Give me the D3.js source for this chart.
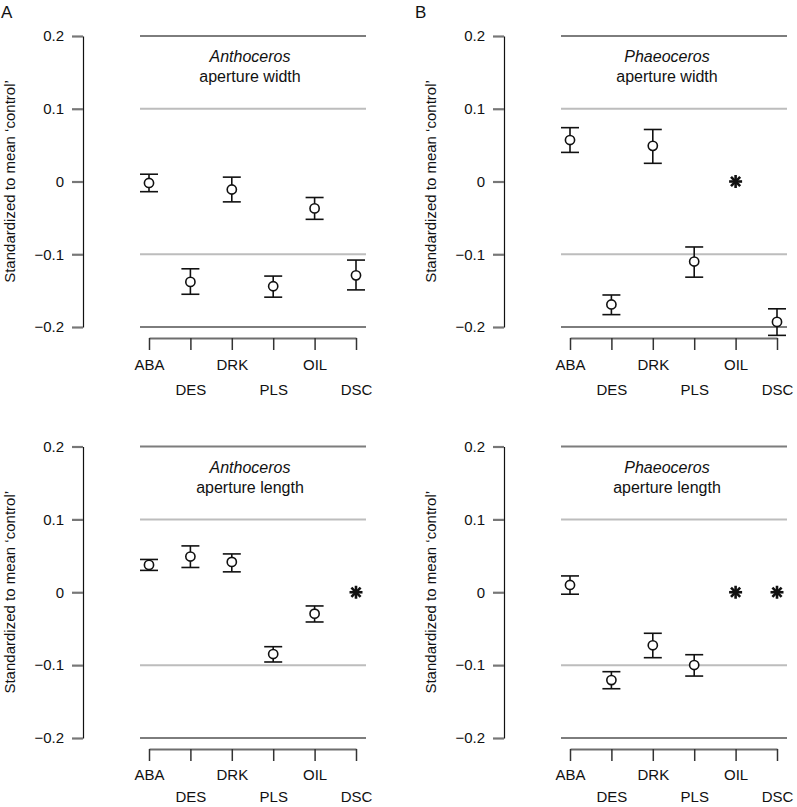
<!DOCTYPE html>
<html>
<head>
<meta charset="utf-8">
<script src="https://cdn.jsdelivr.net/npm/d3@7"></script>
<style>
  html, body { margin: 0; padding: 0; background: #fff; }
  svg { display: block; font-family: "Liberation Sans", Arial, Helvetica, sans-serif; }
</style>
</head>
<body>
<svg id="chart" width="797" height="807"></svg>
<script>
// ---------- DATA ----------
const categories = ["ABA", "DES", "DRK", "PLS", "OIL", "DSC"];
const yTicks = [0.2, 0.1, 0, -0.1, -0.2];
const yLabel = "Standardized to mean \u2018control\u2019";

// marker: "o" = mean ± error bar, "*" = asterisk
const anthWidthMean = [-0.002, -0.138, -0.011, -0.144, -0.037, -0.129];
const anthWidthLow  = [-0.014, -0.155, -0.028, -0.159, -0.052, -0.149];
const anthWidthHigh = [ 0.010, -0.120,  0.006, -0.130, -0.022, -0.108];
const anthWidthMark = ["o", "o", "o", "o", "o", "o"];

const phaeWidthMean = [0.057, -0.169, 0.049, -0.110, 0, -0.193];
const phaeWidthLow  = [0.040, -0.183, 0.025, -0.1315, null, -0.2115];
const phaeWidthHigh = [0.074, -0.156, 0.0715, -0.090, null, -0.175];
const phaeWidthMark = ["o", "o", "o", "o", "*", "o"];

const anthLenMean = [0.0375, 0.049, 0.0416, -0.0848, -0.0294, 0];
const anthLenLow  = [0.030, 0.034, 0.028, -0.0957, -0.0408, null];
const anthLenHigh = [0.045, 0.0636, 0.0526, -0.0747, -0.0188, null];
const anthLenMark = ["o", "o", "o", "o", "o", "*"];

const phaeLenMean = [0.010, -0.1205, -0.0728, -0.0999, 0, 0];
const phaeLenLow  = [-0.0027, -0.1324, -0.0898, -0.115, null, null];
const phaeLenHigh = [0.0224, -0.109, -0.0563, -0.0857, null, null];
const phaeLenMark = ["o", "o", "o", "o", "*", "*"];

// ---------- LAYOUT ----------
const panels = [
  { genus: "Anthoceros", trait: "aperture width", mean: anthWidthMean, low: anthWidthLow, high: anthWidthHigh, mark: anthWidthMark,
    axisX: 83, xr: [149, 356], yr: [327, 36], xAxisY: 338, rowY: [32, 57], titleX: 250, labelX: 15 },
  { genus: "Phaeoceros", trait: "aperture width", mean: phaeWidthMean, low: phaeWidthLow, high: phaeWidthHigh, mark: phaeWidthMark,
    axisX: 504, xr: [570, 777], yr: [327, 36], xAxisY: 338, rowY: [32, 57], titleX: 667, labelX: 436 },
  { genus: "Anthoceros", trait: "aperture length", mean: anthLenMean, low: anthLenLow, high: anthLenHigh, mark: anthLenMark,
    axisX: 83, xr: [149, 356], yr: [738, 446.5], xAxisY: 749, rowY: [31, 53], titleX: 250, labelX: 15 },
  { genus: "Phaeoceros", trait: "aperture length", mean: phaeLenMean, low: phaeLenLow, high: phaeLenHigh, mark: phaeLenMark,
    axisX: 504, xr: [570, 777], yr: [738, 446.5], xAxisY: 749, rowY: [31, 53], titleX: 667, labelX: 436 }
];

const svg = d3.select("#chart");

// Panel letters
svg.append("text").attr("x", 1).attr("y", 18).attr("font-size", 17).attr("fill", "#111").text("A");
svg.append("text").attr("x", 415).attr("y", 18).attr("font-size", 17).attr("fill", "#111").text("B");

panels.forEach(p => {
  const g = svg.append("g");
  const x = d3.scalePoint().domain(categories).range(p.xr);
  const y = d3.scaleLinear().domain([-0.2, 0.2]).range(p.yr);

  // horizontal reference lines
  g.selectAll("line.grid").data(yTicks.filter(t => t !== 0)).join("line")
    .attr("class", "grid")
    .attr("x1", p.xr[0] - 9).attr("x2", p.xr[1] + 10)
    .attr("y1", d => y(d)).attr("y2", d => y(d))
    .attr("stroke", d => Math.abs(d) > 0.15 ? "#7d7d7d" : "#bdbdbd")
    .attr("stroke-width", 2);

  // y axis
  const yAxis = d3.axisLeft(y).tickValues(yTicks).tickSize(11).tickSizeOuter(0).tickPadding(8)
    .tickFormat(d => d === 0 ? "0" : d3.format(".1f")(d).replace("-", "\u2212"));
  const ya = g.append("g").attr("transform", `translate(${p.axisX},0)`).call(yAxis);
  ya.select(".domain").attr("stroke", "#111").attr("stroke-width", 1.2);
  ya.selectAll(".tick line").attr("stroke", "#777").attr("stroke-width", 2.2);
  ya.selectAll(".tick text").attr("font-size", 15).attr("fill", "#111")
    .attr("font-family", "Liberation Sans, Arial, sans-serif");

  // x axis
  const xAxis = d3.axisBottom(x).tickSize(12).tickSizeOuter(0).tickPadding(0);
  const xa = g.append("g").attr("transform", `translate(0,${p.xAxisY})`).call(xAxis);
  xa.select(".domain").attr("stroke", "#6e6e6e").attr("stroke-width", 2.2);
  xa.selectAll(".tick line").attr("stroke", "#333").attr("stroke-width", 1.5);
  xa.selectAll(".tick text").attr("font-size", 15).attr("fill", "#111")
    .attr("font-family", "Liberation Sans, Arial, sans-serif")
    .attr("dy", null)
    .attr("y", (d, i) => p.rowY[i % 2]);

  // y label
  g.append("text")
    .attr("transform", `translate(${p.labelX},${y(0)}) rotate(-90)`)
    .attr("text-anchor", "middle").attr("font-size", 15).attr("fill", "#111")
    .text(yLabel);

  // title
  const t = g.append("text").attr("text-anchor", "middle").attr("font-size", 16).attr("fill", "#111");
  t.append("tspan").attr("x", p.titleX).attr("y", y(0.2) + 26).attr("font-style", "italic").text(p.genus);
  t.append("tspan").attr("x", p.titleX).attr("y", y(0.2) + 46).text(p.trait);

  const rows = categories.map((c, i) => ({ c, m: p.mean[i], lo: p.low[i], hi: p.high[i], mk: p.mark[i] }));
  const bars = rows.filter(r => r.mk === "o");
  const stars = rows.filter(r => r.mk === "*");

  // error bars
  const eb = g.selectAll("g.eb").data(bars).join("g").attr("class", "eb")
    .attr("stroke", "#111").attr("stroke-width", 1.6).attr("fill", "none");
  eb.append("line").attr("x1", d => x(d.c)).attr("x2", d => x(d.c)).attr("y1", d => y(d.hi)).attr("y2", d => y(d.lo));
  eb.append("line").attr("x1", d => x(d.c) - 9).attr("x2", d => x(d.c) + 9).attr("y1", d => y(d.hi)).attr("y2", d => y(d.hi));
  eb.append("line").attr("x1", d => x(d.c) - 9).attr("x2", d => x(d.c) + 9).attr("y1", d => y(d.lo)).attr("y2", d => y(d.lo));
  eb.append("circle").attr("cx", d => x(d.c)).attr("cy", d => y(d.m)).attr("r", 4.6).attr("fill", "#fff");

  // asterisks
  const st = g.selectAll("g.star").data(stars).join("g").attr("class", "star")
    .attr("transform", d => `translate(${x(d.c)},${y(d.m)})`)
    .attr("stroke", "#111").attr("stroke-width", 2.6).attr("stroke-linecap", "butt");
  [0, 45, 90, 135].forEach(a => {
    const r = 6.5, rad = a * Math.PI / 180;
    st.append("line")
      .attr("x1", -r * Math.cos(rad)).attr("y1", -r * Math.sin(rad))
      .attr("x2", r * Math.cos(rad)).attr("y2", r * Math.sin(rad));
  });
});
</script>
</body>
</html>
